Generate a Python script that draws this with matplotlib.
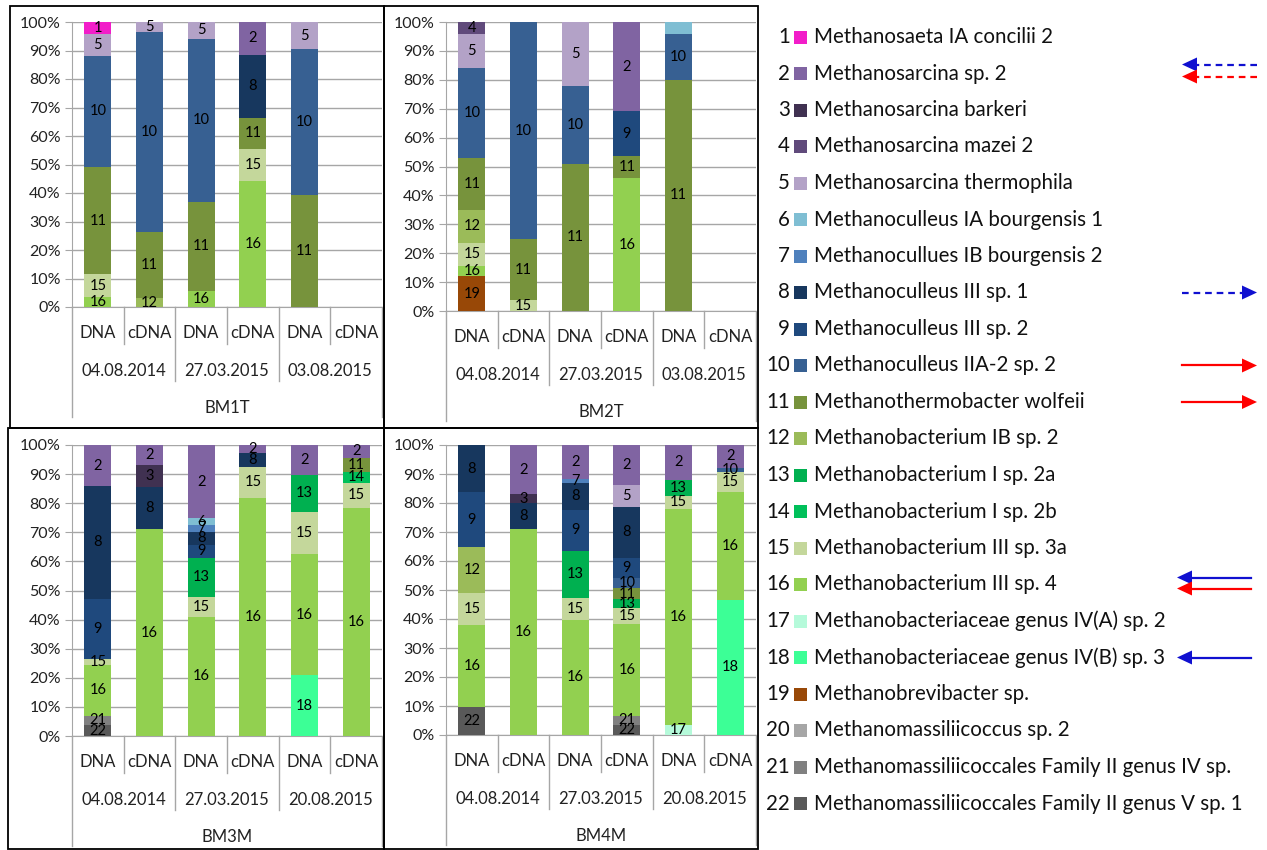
import matplotlib
matplotlib.use("Agg")
import matplotlib.pyplot as plt
import matplotlib.transforms as mtransforms
from matplotlib.patches import Rectangle, Polygon
from matplotlib.lines import Line2D

plt.rcParams['font.family'] = ['Lato', 'DejaVu Sans']

W, H = 1267, 850

species = ["Methanosaeta IA concilii 2", "Methanosarcina sp. 2", "Methanosarcina barkeri",
           "Methanosarcina mazei 2", "Methanosarcina thermophila", "Methanoculleus IA bourgensis 1",
           "Methanocullues IB bourgensis 2", "Methanoculleus III sp. 1", "Methanoculleus III sp. 2",
           "Methanoculleus IIA-2 sp. 2", "Methanothermobacter wolfeii", "Methanobacterium IB sp. 2",
           "Methanobacterium I sp. 2a", "Methanobacterium I sp. 2b", "Methanobacterium III sp. 3a",
           "Methanobacterium III sp. 4", "Methanobacteriaceae genus IV(A) sp. 2",
           "Methanobacteriaceae genus IV(B) sp. 3", "Methanobrevibacter sp.",
           "Methanomassiliicoccus sp. 2", "Methanomassiliicoccales Family II genus IV sp.",
           "Methanomassiliicoccales Family II genus V sp. 1"]
colors = ["#F21DC9", "#8064A2", "#403151", "#604A7B", "#B3A2C7", "#7FBED3", "#4F81BD",
          "#17375E", "#1F497D", "#376092", "#77933C", "#9BBB59", "#00B050", "#00C05A",
          "#C4D79B", "#92D050", "#B5FADA", "#3CFF96", "#984807", "#A6A6A6", "#808080", "#595959"]

samples = ["DNA", "cDNA", "DNA", "cDNA", "DNA", "cDNA"]
dates_t = ["04.08.2014", "27.03.2015", "03.08.2015"]
dates_m = ["04.08.2014", "27.03.2015", "20.08.2015"]

# species number -> % abundance, one dict per bar
bm1t = [{16: 3.5, 15: 8, 11: 37.5, 10: 39.2, 5: 7.7, 1: 4.1},
        {12: 3, 11: 23.4, 10: 70.1, 5: 3.5},
        {16: 5.5, 11: 31.5, 10: 57.1, 5: 5.9},
        {16: 44.2, 15: 11.3, 11: 10.9, 8: 22.1, 2: 11.5},
        {11: 39.3, 10: 51.1, 5: 9.6},
        {}]
bm2t = [{19: 12, 16: 3.6, 15: 8, 12: 11.5, 11: 17.7, 10: 31.2, 5: 11.7, 4: 4.3},
        {15: 3.8, 11: 21, 10: 75.2},
        {11: 51, 10: 26.8, 5: 22.2},
        {16: 46, 11: 7.6, 9: 15.5, 2: 30.9},
        {11: 80.1, 10: 15.6, 6: 4.3},
        {}]
bm3m = [{22: 3.7, 21: 3.3, 16: 17.4, 15: 2, 9: 20.8, 8: 38.7, 2: 14.1},
        {16: 71.1, 8: 14.5, 3: 7.4, 2: 7},
        {16: 40.9, 15: 6.9, 13: 13.4, 9: 4.6, 8: 4.4, 7: 2.3, 6: 2.3, 2: 25.2},
        {16: 81.9, 15: 10.6, 8: 4.9, 2: 2.6},
        {18: 20.9, 16: 41.6, 15: 14.5, 13: 12.7, 2: 10.3},
        {16: 78.4, 15: 8.6, 14: 3.8, 11: 4.8, 2: 4.4}]
bm4m = [{22: 9.5, 16: 28.4, 15: 10.9, 12: 15.9, 9: 19, 8: 16.3},
        {16: 71, 8: 8.9, 3: 3.1, 2: 17},
        {16: 39.7, 15: 7.5, 13: 16.3, 9: 14.1, 8: 9.4, 7: 1.3, 2: 11.7},
        {22: 3.4, 21: 3.2, 16: 31.6, 15: 5.6, 13: 3, 11: 3.8, 10: 3.7, 9: 6.9, 8: 17.5, 5: 7.5, 2: 13.8},
        {17: 3.4, 16: 74.7, 15: 4.3, 13: 5.7, 2: 11.9},
        {18: 46.6, 16: 37.1, 15: 6.9, 10: 1.6, 2: 7.8}]
unlabelled = [("BM2T", 4, 6)]

# legend arrows: (row, direction, colour, dashed, y offset px)
arrows = [(2, "left", "#1010D0", True, -9), (2, "left", "#FF0000", True, 3),
          (8, "right", "#1010D0", True, 0), (10, "right", "#FF0000", False, 0),
          (11, "right", "#FF0000", False, 0), (16, "left", "#1010D0", False, -7),
          (16, "left", "#FF0000", False, 4), (18, "left", "#1010D0", False, 0)]


def fx(x):
    return x / W


def fy(y):
    return 1 - y / H


fig = plt.figure(figsize=(W / 100, H / 100), dpi=100)

panels = [("BM1T", bm1t, dates_t, (72, 22, 382, 307), (10, 6, 384, 428)),
          ("BM2T", bm2t, dates_t, (446, 22, 756, 311), (384, 6, 758, 428)),
          ("BM3M", bm3m, dates_m, (72, 445, 382, 736), (8, 428, 384, 849)),
          ("BM4M", bm4m, dates_m, (446, 445, 756, 735), (384, 428, 758, 849))]

grid_c = "#A6A6A6"
for name, bars, dates, (x0, y0, x1, y1), box in panels:
    fig.add_artist(Rectangle((fx(box[0]), fy(box[3])), fx(box[2] - box[0]), (box[3] - box[1]) / H,
                             transform=fig.transFigure, fill=False, ec="black", lw=1.3))
    ax = fig.add_axes([fx(x0), fy(y1), fx(x1 - x0), (y1 - y0) / H])
    for i, bar in enumerate(bars):
        bottom = 0
        for sp in sorted(bar, reverse=True):
            v = bar[sp]
            ax.bar(i, v, bottom=bottom, width=0.52, color=colors[sp - 1], zorder=3)
            if (name, i, sp) not in unlabelled:
                ax.text(i, bottom + v / 2, str(sp), ha="center", va="center",
                        fontsize=10.5, color="black", zorder=4)
            bottom += v
    ax.set_xlim(-0.5, 5.5)
    ax.set_ylim(0, 100)
    ax.set_yticks(range(0, 101, 10))
    ax.set_yticklabels(["%d%%" % t for t in range(0, 101, 10)], fontsize=11.5, color="#222222")
    ax.yaxis.grid(True, color=grid_c, lw=1, zorder=0)
    ax.tick_params(axis="y", length=5, color=grid_c, pad=3)
    ax.set_xticks([])
    for s in ["top", "right"]:
        ax.spines[s].set_visible(False)
    ax.spines["left"].set_color(grid_c)
    ax.spines["bottom"].set_color(grid_c)

    # multi-level category axis
    tr = mtransforms.blended_transform_factory(ax.transData, fig.transFigure)
    for k in range(7):
        xb = k - 0.5
        depth = 110 if k in (0, 6) else (74 if k % 2 == 0 else 37)
        ax.add_line(Line2D([xb, xb], [fy(y1), fy(y1 + depth)], transform=tr,
                           color=grid_c, lw=1, clip_on=False))
    for i, s in enumerate(samples):
        ax.text(i, fy(y1 + 26), s, transform=tr, ha="center", va="center", fontsize=12, color="#222222")
    for g, d in enumerate(dates):
        ax.text(2 * g + 0.5, fy(y1 + 64), d, transform=tr, ha="center", va="center",
                fontsize=12, color="#222222")
    ax.text(2.5, fy(y1 + 101), name, transform=tr, ha="center", va="center", fontsize=12, color="#222222")

# legend
for i, (sp, c) in enumerate(zip(species, colors)):
    y = 37 + 36.5 * i
    fig.text(fx(790), fy(y), str(i + 1), ha="right", va="center", fontsize=14.8, color="#111111")
    fig.add_artist(Rectangle((fx(794), fy(y + 6.5)), fx(13), 13 / H, transform=fig.transFigure,
                             color=c, lw=0))
    fig.text(fx(814), fy(y), sp, ha="left", va="center", fontsize=14.8, color="#111111")

for row, direction, c, dashed, dy in arrows:
    y = 37 + 36.5 * (row - 1) + dy
    xl, xr = (1177, 1251) if row in (16, 18) else (1182, 1257)
    head, tail = (xl, xr) if direction == "left" else (xr, xl)
    sgn = 1 if direction == "left" else -1
    base = head + sgn * 15
    fig.add_artist(Line2D([fx(tail), fx(base)], [fy(y), fy(y)], transform=fig.transFigure,
                          color=c, lw=1.6, linestyle=(0, (3, 2.2)) if dashed else "-"))
    fig.add_artist(Polygon([(fx(head), fy(y)), (fx(base), fy(y - 7)), (fx(base), fy(y + 7))],
                           closed=True, transform=fig.transFigure, color=c, lw=0))

fig.savefig("out.png", dpi=100)
